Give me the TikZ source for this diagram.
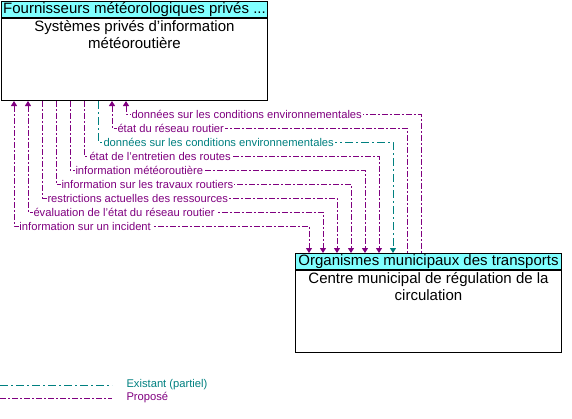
\documentclass[tikz,border=0pt]{standalone}
\usepackage{fontspec}
\setmainfont{Liberation Sans}
\usetikzlibrary{positioning, arrows.meta}

\definecolor{proposed}{RGB}{128,0,128}
\definecolor{existing}{RGB}{0,128,128}
\definecolor{headcyan}{RGB}{128,255,255}

\begin{document}
\begin{tikzpicture}[
        x=1pt, y=-1pt, line width=1pt,
        head/.style={rectangle, draw, fill=headcyan, minimum width=266pt, minimum height=16pt, inner sep=0pt, anchor=north west, font=\fontsize{15}{17}\selectfont},
        body/.style={rectangle, draw, minimum width=266pt, minimum height=82pt, anchor=north west},
        title/.style={align=center, anchor=north, inner sep=1pt, yshift=-1pt, font=\fontsize{15}{17}\selectfont},
        prop/.style={draw=proposed, text=proposed, dash pattern=on 6pt off 2pt on 2pt off 2pt},
        exist/.style={draw=existing, text=existing, dash pattern=on 8pt off 3pt on 2pt off 3pt},
        flowlabel/.style={fill=white, inner sep=1pt, anchor=west, xshift=4pt, font=\fontsize{11.2}{12}\selectfont},
        legend/.style={anchor=west, inner sep=0pt, font=\fontsize{11.2}{12}\selectfont},
        >={Triangle[length=5pt, width=6pt]}
      ]
        \useasboundingbox (0,0) rectangle (572,418);

        % Systems
        \node[head] (wxhead) at (1,1) {Fournisseurs météorologiques privés ...};
        \node[body] (wx) at (wxhead.south west) {};
        \node[title] at (wx.north) {Systèmes privés d'information\\météoroutière};

        \node[head] (tmchead) at (295,253) {Organismes municipaux des transports};
        \node[body] (tmc) at (tmchead.south west) {};
        \node[title] at (tmc.north) {Centre municipal de régulation de la\\circulation};

        % Flows
        \foreach \i/\dir/\st/\txt in {
            0/<->/prop/information sur un incident,
            1/<->/prop/évaluation de l'état du réseau routier,
            2/->/prop/restrictions actuelles des ressources,
            3/->/prop/information sur les travaux routiers,
            4/->/prop/information météoroutière,
            5/->/prop/état de l'entretien des routes,
            6/->/exist/données sur les conditions environnementales,
            7/<-/prop/état du réseau routier,
            8/<-/prop/données sur les conditions environnementales} {
          \pgfmathsetmacro\ta{13+14*\i}
          \pgfmathsetmacro\tb{14+14*\i}
          \pgfmathsetmacro\dy{125-14*\i}
          \draw[\st, \dir] ([xshift=\ta pt]wx.south west) -- ++(0,\dy) node[flowlabel]{\txt}
            -| ([xshift=\tb pt]tmchead.north west);
        }

        % Legend
        \node[legend, text=existing] (legexist) at (126,385) {Existant (partiel)};
        \node[legend, text=proposed] (legprop) at (126,398) {Proposé};
        \draw[exist] (0,385) -- ([xshift=-14pt]legexist.west);
        \draw[prop] (0,398) -- ([xshift=-14pt]legprop.west);

      \end{tikzpicture}
\end{document}
